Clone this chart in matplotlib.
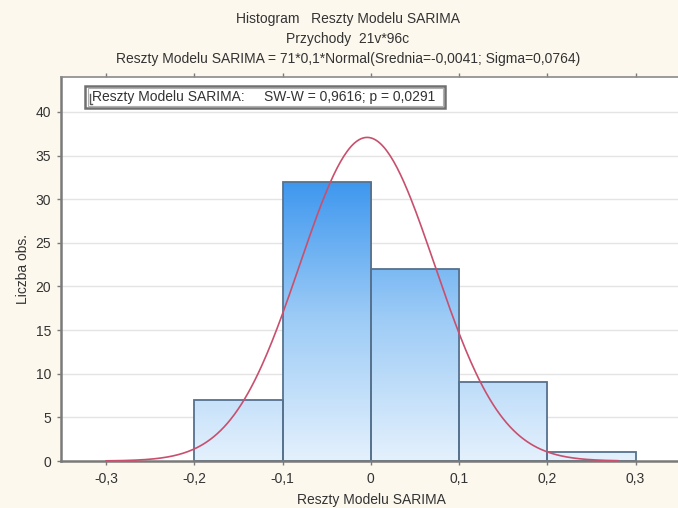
import matplotlib
matplotlib.use("Agg")
import matplotlib.pyplot as plt
import numpy as np
from matplotlib.colors import LinearSegmentedColormap
from matplotlib.patches import Rectangle

# histogram of SARIMA residuals
bin_edges = [-0.2, -0.1, 0.0, 0.1, 0.2, 0.3]
counts = [7, 32, 22, 9, 1]
n_obs = 71
bin_width = 0.1
mean = -0.0041
sigma = 0.0764
x_ticks = [-0.3, -0.2, -0.1, 0.0, 0.1, 0.2, 0.3]
x_ticklabels = ["-0,3", "-0,2", "-0,1", "0", "0,1", "0,2", "0,3"]
y_ticks = [0, 5, 10, 15, 20, 25, 30, 35, 40]

title_lines = [
    "Histogram   Reszty Modelu SARIMA",
    "Przychody  21v*96c",
    "Reszty Modelu SARIMA = 71*0,1*Normal(Srednia=-0,0041; Sigma=0,0764)",
]
legend_text = "Reszty Modelu SARIMA:     SW-W = 0,9616; p = 0,0291"

plt.rcParams["font.family"] = ["Liberation Sans", "DejaVu Sans"]
bg = "#fcf8ee"
txt = "#333333"
fs = 10

fig = plt.figure(figsize=(6.78, 5.08), dpi=100, facecolor=bg)
ax = fig.add_axes([0.090, 0.0925, 0.915, 0.756])
ax.set_facecolor("white")

# gridlines
for y in y_ticks[1:]:
    ax.axhline(y, color="#e4e4e4", lw=1, zorder=0)

# bars with vertical gradient
cmap = LinearSegmentedColormap.from_list("blu", ["#e4f1fd", "#9ccbf6", "#3894ee"])
grad = np.linspace(0, 1, 256).reshape(-1, 1)
for left, right, c in zip(bin_edges[:-1], bin_edges[1:], counts):
    im = ax.imshow(grad, cmap=cmap, origin="lower", aspect="auto",
                   extent=[left, right, 0, 33], zorder=1, vmin=0, vmax=1)
    rect = Rectangle((left, 0), right - left, c, facecolor="none",
                     edgecolor="#56728f", lw=1.3, zorder=2)
    ax.add_patch(rect)
    im.set_clip_path(rect)
ax.set_xlim(-0.351, 0.352)
ax.set_ylim(0, 44)

# fitted normal curve
xs = np.linspace(-0.30, 0.28, 300)
pdf = n_obs * bin_width * np.exp(-0.5 * ((xs - mean) / sigma) ** 2) / (sigma * np.sqrt(2 * np.pi))
ax.plot(xs, pdf, color="#c8506e", lw=1.2, zorder=3)

# spines and ticks
for s in ["left", "bottom"]:
    ax.spines[s].set_color("#7a7a7a")
    ax.spines[s].set_linewidth(1.8)
ax.spines["top"].set_color("#8a8a8a")
ax.spines["top"].set_linewidth(1.2)
ax.spines["right"].set_visible(False)
ax.set_xticks(x_ticks)
ax.set_xticklabels(x_ticklabels)
ax.set_yticks(y_ticks)
ax.tick_params(axis="both", length=3, width=1, color="#7a7a7a", labelsize=fs,
               labelcolor=txt, top=True)
ax.tick_params(axis="y", pad=4)
ax.tick_params(axis="x", pad=5)
ax.set_xlabel("Reszty Modelu SARIMA", fontsize=fs, color=txt, labelpad=5)
ax.set_ylabel("Liczba obs.", fontsize=fs, color=txt, labelpad=4)

# legend box
ax.text(0.050, 0.947, legend_text, transform=ax.transAxes, fontsize=fs,
        color=txt, va="center", ha="left", zorder=6)
ax.add_patch(Rectangle((0.039, 0.918), 0.580, 0.058, transform=ax.transAxes,
                       facecolor="white", edgecolor="#707070", lw=1.8, zorder=5))
ax.add_patch(Rectangle((0.043, 0.924), 0.572, 0.046, transform=ax.transAxes,
                       facecolor="none", edgecolor="#b0b0b0", lw=0.8, zorder=5))
ax.plot([0.046, 0.046, 0.050], [0.955, 0.930, 0.930], transform=ax.transAxes,
        color="#555555", lw=1, zorder=6)

# titles
for i, line in enumerate(title_lines):
    fig.text(0.513, 1 - (19 + 20 * i) / 508, line, fontsize=fs, color=txt,
             ha="center", va="center")

fig.savefig("out.png", dpi=100, facecolor=bg)
